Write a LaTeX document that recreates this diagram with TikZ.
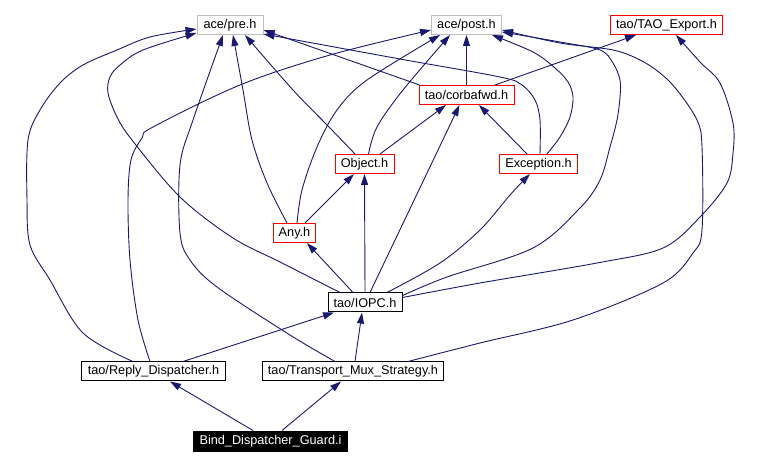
\documentclass[tikz,border=0pt]{standalone}
\usepackage{fontspec}
\setmainfont{Liberation Sans}
\usetikzlibrary{arrows.meta}
\definecolor{edgeblue}{RGB}{25,25,112}
\definecolor{nodegray}{RGB}{191,191,191}
\definecolor{nodered}{RGB}{255,0,0}
\begin{document}
\begin{tikzpicture}[x=1pt,y=-1pt,
  nd/.style={draw, line width=1pt, inner sep=0pt, minimum height=19pt, anchor=center,
    font=\fontsize{12.7pt}{15pt}\selectfont},
  gry/.style={nd, draw=nodegray},
  redb/.style={nd, draw=nodered},
  blk/.style={nd, draw=black},
  inv/.style={nd, draw=black, fill=black, text=white},
  edge/.style={draw=edgeblue, line width=0.9pt, -{Triangle[length=11pt,width=7pt]}},
  sm/.style={smooth, tension=0.55}
]
\useasboundingbox (0,0) rectangle (780,465);
\fill[white] (0,0) rectangle (780,465);

\node[gry, minimum width=66pt] (pre) at (230,25) {ace/pre.h};
\node[gry, minimum width=70pt] (post) at (466.5,25) {ace/post.h};
\node[redb, minimum width=112pt] (tao) at (666.5,25) {tao/TAO\_Export.h};
\node[redb, minimum width=95pt] (corba) at (466.5,95) {tao/corbafwd.h};
\node[redb, minimum width=59pt] (object) at (364.5,164) {Object.h};
\node[redb, minimum width=78pt] (exc) at (538.5,164) {Exception.h};
\node[redb, minimum width=42pt] (any) at (294.5,233) {Any.h};
\node[blk, minimum width=74pt] (iopc) at (365,302.5) {tao/IOPC.h};
\node[blk, minimum width=144pt] (reply) at (153.5,371.5) {tao/Reply\_Dispatcher.h};
\node[blk, minimum width=181pt] (trans) at (353,371.5) {tao/Transport\_Mux\_Strategy.h};
\node[inv, minimum width=154pt, minimum height=20pt] (bind) at (270.5,441) {Bind\_Dispatcher\_Guard.i};

% Bind
\draw[edge] ([xshift=-17.5pt]bind.north) -- ([xshift=16.5pt]reply.south);
\draw[edge] ([xshift=11.5pt]bind.north) -- ([xshift=-12pt]trans.south);
% Reply
\draw[edge] ([xshift=29.5pt]reply.north) -- ([xshift=-31pt]iopc.south);
\draw[edge] plot[sm] coordinates {([xshift=-20.5pt]reply.north) (83,333) (50,280) (30,245) (27,200) (28,140) (40,110) (60,83) (83,65) (117,50) (150,37) ([yshift=-4pt]pre.west)};
\draw[edge] plot[sm] coordinates {([xshift=-3.5pt]reply.north) (138,320) (130,260) (128,200) (131,160) (142,138) (153,127) (240,85) (330,55) ([yshift=-5pt]post.west)};
% Transport
\draw[edge] ([xshift=2pt]trans.north) -- ([xshift=-3pt]iopc.south);
\draw[edge] plot[sm] coordinates {([xshift=-18pt]trans.north) (290,335) (217,287) (190,260) (180,233) (180,165) (193,120) ([xshift=-7pt]pre.south)};
\draw[edge] plot[sm] coordinates {([xshift=55pt]trans.north) (480,343) (573,320) (663,283) (693,253) (702,230) (702,147) (697,120) (677,90) (660,73) (640,60) (613,50) (560,43) ([yshift=-5pt]post.east)};
% IOPC
\draw[edge] plot[sm] coordinates {([xshift=-25pt]iopc.north) (280,262) (233,238) (180,197) (132,140) (117,117) (108,93) (110,77) (120,65) (143,50) ([yshift=-8pt]pre.west)};
\draw[edge] plot[sm] coordinates {([yshift=7pt]iopc.east) (447,277) (533,248) (580,208) (600,180) (610,147) (617,120) (620,97) (620,80) (613,63) (600,50) (560,42) ([yshift=-7pt]post.east)};
\draw[edge] plot[sm] coordinates {([yshift=5pt]iopc.east) (480,283) (597,263) (663,248) (700,217) (727,183) (733,153) (733,123) (720,83) (700,62) ([xshift=9.5pt]tao.south)};
\draw[edge] ([xshift=-12pt]iopc.north) -- ([xshift=12.5pt]any.south);
\draw[edge] (iopc.north) -- (object.south);
\draw[edge] ([xshift=5pt]iopc.north) -- ([xshift=-7pt]corba.south);
\draw[edge] plot[sm] coordinates {([xshift=22pt]iopc.north) (440,263) (480,230) (510,195) ([xshift=-8.5pt]exc.south)};
% Any
\draw[edge] plot[sm] coordinates {([xshift=-7.5pt]any.north) (267,183) (252,140) (243,90) ([xshift=3pt]pre.south)};
\draw[edge] plot[sm] coordinates {([xshift=2.5pt]any.north) (302,190) (317,147) (337,110) (367,80) ([xshift=-26.5pt]post.south)};
\draw[edge] ([xshift=10.5pt]any.north) -- ([xshift=-10.5pt]object.south);
% Object
\draw[edge] plot[sm] coordinates {([xshift=-9.5pt]object.north) (330,128) (293,90) ([xshift=15pt]pre.south)};
\draw[edge] plot[sm] coordinates {([xshift=4pt]object.north) (377,127) (403,90) ([xshift=-16.5pt]post.south)};
\draw[edge] ([xshift=15.5pt]object.north) -- ([xshift=-20.5pt]corba.south);
% Exception
\draw[edge] plot[sm] coordinates {([xshift=1.5pt]exc.north) (540,120) (535,100) (522,85) (500,77) (400,59) ([yshift=-9pt]pre.east)};
\draw[edge] plot[sm] coordinates {([xshift=8.5pt]exc.north) (560,137) (570,117) (573,97) (568,82) (555,68) (533,52) ([xshift=25.5pt]post.south)};
\draw[edge] ([xshift=-11.5pt]exc.north) -- ([xshift=12.5pt]corba.south);
% corbafwd
\draw[edge] ([xshift=1pt]corba.north west) -- ([yshift=-5pt]pre.east);
\draw[edge] (corba.north) -- (post.south);
\draw[edge] ([xshift=28.5pt]corba.north) -- ([xshift=-30.5pt]tao.south);
\end{tikzpicture}
\end{document}
